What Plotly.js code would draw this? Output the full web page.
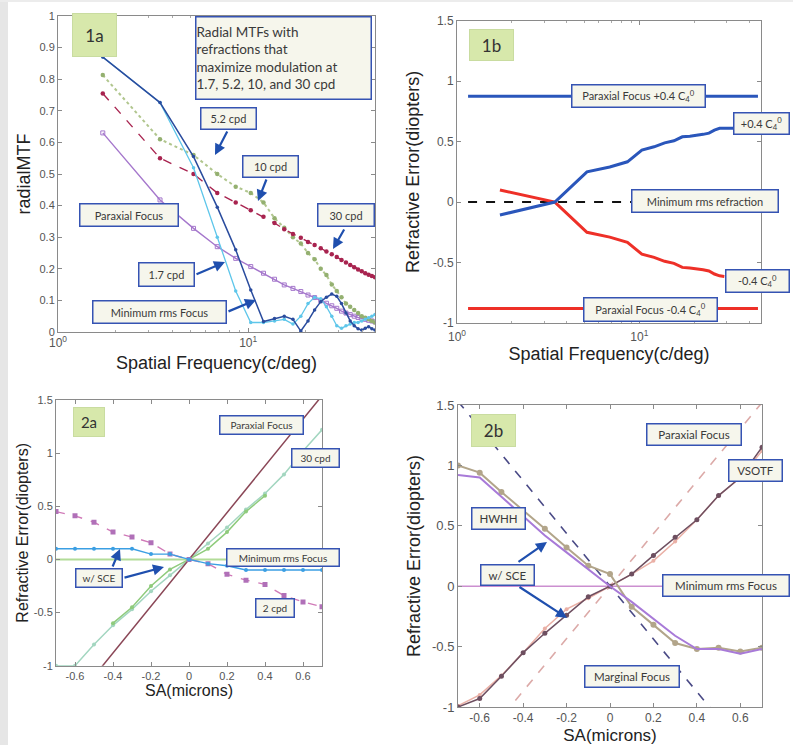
<!DOCTYPE html>
<html><head><meta charset="utf-8">
<script src="https://cdn.plot.ly/plotly-3.0.1.min.js"></script>
<style>html,body{margin:0;padding:0;background:#fff}#chart{width:793px;height:745px}</style>
</head><body><div id="chart"></div>
<script>
// ---------- Panel 1a / 1b : spatial frequency (c/deg) ----------
const freq = [1.72,3.44,5.16,6.88,8.6,10.32,12.04,13.76,15.48,17.2,18.92,20.64,22.36,24.08,25.8,27.52,29.24,30.96,32.68,34.4,36.12,37.84,39.56,41.28,43,44.72,46.44];
const mtfMinRms = [0.87,0.726,0.555,0.395,0.26,0.133,0.033,0.043,0.05,0.04,0.003,0.035,0.07,0.096,0.11,0.12,0.113,0.09,0.06,0.035,0.02,0.01,0.006,0.012,0.017,0.01,0.006];
const mtf17 = [0.87,0.726,0.52,0.30,0.13,0.03,0.03,0.035,0.04,0.025,0.05,0.09,0.11,0.105,0.08,0.05,0.02,0.012,0.02,0.025,0.03,0.03,0.035,0.04,0.045,0.05,0.055];
const mtf52 = [0.813,0.61,0.56,0.50,0.46,0.44,0.41,0.36,0.33,0.30,0.28,0.25,0.23,0.20,0.18,0.15,0.13,0.11,0.09,0.08,0.07,0.06,0.05,0.045,0.04,0.035,0.03];
const mtf10_30 = [0.755,0.55,0.50,0.44,0.41,0.385,0.365,0.345,0.325,0.31,0.298,0.285,0.275,0.265,0.255,0.246,0.237,0.228,0.22,0.212,0.205,0.198,0.192,0.186,0.181,0.177,0.173];
const mtfParaxial = [0.63,0.418,0.328,0.27,0.233,0.207,0.186,0.167,0.149,0.138,0.128,0.117,0.109,0.099,0.091,0.083,0.075,0.066,0.06,0.055,0.05,0.046,0.043,0.04,0.037,0.035,0.032];
const refrPlus = [-0.107,0.0,0.25,0.29,0.333,0.43,0.457,0.49,0.507,0.54,0.545,0.55,0.56,0.57,0.595,0.61,0.61,0.61,0.61];
const refrMinus = [0.1,0.0,-0.25,-0.29,-0.333,-0.43,-0.457,-0.49,-0.507,-0.54,-0.545,-0.55,-0.56,-0.57,-0.595,-0.61,-0.615];
const flatX = [1.15,44.7];
const paraxPlusY = [0.876,0.876];
const paraxMinusY = [-0.88,-0.88];
const minRmsY = [0,0];
const logTickVals = [1,10];
const logTickText = ['10<sup>0</sup>','10<sup>1</sup>'];

// ---------- Panel 2a / 2b : SA (microns) ----------
const sa = [-0.7,-0.6,-0.5,-0.4,-0.3,-0.2,-0.1,0,0.1,0.2,0.3,0.4,0.5,0.6,0.7];
const sa2a_green = [-0.4,-0.3,-0.2,-0.1,0,0.1,0.2,0.3,0.4];
const re2a_green = [-0.6,-0.45,-0.25,-0.094,0,0.1,0.257,0.45,0.6];
const re2a_teal = [-1.0,-1.0,-0.8,-0.62,-0.47,-0.3,-0.15,0,0.15,0.3,0.47,0.62,0.8,1.02,1.22];
const re2a_blue = [0.1,0.1,0.1,0.1,0.1,0.05,0.05,0,-0.04,-0.06,-0.1,-0.1,-0.1,-0.1,-0.1];
const re2a_pink = [0.45,0.41,0.35,0.257,0.21,0.157,0.05,0,-0.04,-0.14,-0.195,-0.235,-0.34,-0.4,-0.445];
const lineX = [-0.7,0.7];
const parax2aY = [-1.54,1.54];
const parax2bY = [-1.52,1.52];
const marg2bY = [1.53,-1.53];
const hwhhNoSce = [1.0,0.94,0.78,0.63,0.475,0.32,0.17,0.1,-0.17,-0.32,-0.47,-0.52,-0.51,-0.54,-0.51];
const hwhhSce = [0.92,0.9,0.74,0.58,0.42,0.28,0.14,0,-0.13,-0.27,-0.41,-0.52,-0.52,-0.56,-0.52];
const vsotfSce = [-1.0,-0.93,-0.745,-0.55,-0.39,-0.24,-0.087,0,0.1,0.255,0.406,0.55,0.75,0.9,1.15];
const vsotfNoSce = [-0.99,-0.9,-0.74,-0.55,-0.35,-0.19,-0.1,0,0.1,0.21,0.37,0.55,0.75,0.9,1.12];
const srTickVals = [-1,-0.5,0,0.5,1,1.5];
const srTickText = ['-1','-0.5','0','0.5','1','1.5'];
const saTickVals = [-0.6,-0.4,-0.2,0,0.2,0.4,0.6];
const saTickText = ['-0.6','-0.4','-0.2','0','0.2','0.4','0.6'];

const W = 793, H = 745;
const px = v => v / W, py = v => 1 - v / H;

function tr(x, y, ax, color, opt) {
  opt = opt || {};
  const t = {x: x, y: y, xaxis: 'x' + (ax === 1 ? '' : ax), yaxis: 'y' + (ax === 1 ? '' : ax),
    type: 'scatter', mode: opt.mode || 'lines', hoverinfo: 'skip',
    line: {color: color, width: opt.width || 1.3, dash: opt.dash || 'solid'}};
  if (t.mode.indexOf('markers') >= 0) {
    t.marker = {color: opt.mcolor || color, size: opt.msize || 4, symbol: opt.symbol || 'circle',
      line: {color: opt.mline || color, width: opt.mlw || 0}};
  }
  return t;
}

const data = [
  // 1a
  tr(freq, mtfParaxial, 1, '#a577cc', {mode: 'lines+markers', symbol: 'square-open', msize: 4, mlw: 1, width: 1.4}),
  tr(freq, mtf52, 1, '#b1c68e', {mode: 'lines+markers', dash: 'dot', msize: 4.5, mcolor: '#94b070', width: 2}),
  tr(freq, mtf10_30, 1, '#a8234f', {mode: 'lines+markers', dash: 'dash', msize: 4.5, width: 1.4}),
  tr(freq, mtf17, 1, '#5ec6ea', {mode: 'lines+markers', msize: 3.5, width: 1.3}),
  tr(freq, mtfMinRms, 1, '#2a4c9e', {mode: 'lines+markers', msize: 3.5, width: 1.5}),
  // 1b
  tr(flatX, paraxPlusY, 2, '#2a56bb', {width: 3}),
  tr(flatX, paraxMinusY, 2, '#ee3028', {width: 3}),
  tr(flatX, minRmsY, 2, '#111111', {width: 2, dash: 'dash'}),
  tr(freq.slice(0, refrMinus.length), refrMinus, 2, '#ee3028', {width: 3}),
  tr(freq.slice(0, refrPlus.length), refrPlus, 2, '#2a56bb', {width: 3}),
  // 2a
  tr(lineX, minRmsY, 3, '#b2dc98', {width: 2}),
  tr(sa, re2a_teal, 3, '#a3d6c0', {mode: 'lines+markers', msize: 4, width: 1.5}),
  tr(lineX, parax2aY, 3, '#8a4656', {width: 1.5}),
  tr(sa2a_green, re2a_green, 3, '#8fcb7c', {mode: 'lines+markers', msize: 4, width: 1.5}),
  tr(sa, re2a_pink, 3, '#d07ab8', {mode: 'lines+markers', dash: 'dash', symbol: 'square', msize: 5, mcolor: '#b070b8', width: 1.4}),
  tr(sa, re2a_blue, 3, '#3b9fe3', {mode: 'lines+markers', msize: 4, width: 1.4}),
  // 2b
  tr(lineX, minRmsY, 4, '#cc8fd0', {width: 1.5}),
  tr(lineX, parax2bY, 4, '#dcaaa8', {width: 1.6, dash: 'dash'}),
  tr(lineX, marg2bY, 4, '#4a4a86', {width: 1.6, dash: 'dash'}),
  tr(sa, vsotfNoSce, 4, '#eab0a6', {mode: 'lines+markers', msize: 4, width: 1.5}),
  tr(sa, vsotfSce, 4, '#6e4f60', {mode: 'lines+markers', msize: 5, width: 1.5}),
  tr(sa, hwhhNoSce, 4, '#b2a58a', {mode: 'lines+markers', msize: 6, width: 2}),
  tr(sa, hwhhSce, 4, '#a87ad8', {width: 2})
];

const tickFont = (s) => ({family: 'Liberation Sans, Arial, sans-serif', size: s, color: '#555'});
const titleFont = (s) => ({family: 'Liberation Sans, Arial, sans-serif', size: s, color: '#222'});
const baseAx = {showline: true, mirror: 'ticks', linecolor: '#8a8a8a', linewidth: 1, ticks: 'inside',
  ticklen: 4, tickcolor: '#8a8a8a', showgrid: false, zeroline: false, automargin: false, fixedrange: true};

function ax(extra) { return Object.assign({}, baseAx, extra); }

const ann = [];
function box(text, x0, y0, x1, y1, o) {
  o = o || {};
  const bw = o.bw === undefined ? 1.5 : o.bw;
  ann.push({xref: 'paper', yref: 'paper', x: px((x0 + x1) / 2), y: py((y0 + y1) / 2),
    xanchor: 'center', yanchor: 'middle', text: text, showarrow: false,
    width: x1 - x0 - 2 * bw, height: y1 - y0 - 2 * bw, borderpad: 0,
    align: o.align || 'center', valign: 'middle',
    bordercolor: o.border || '#3553b3', borderwidth: bw, bgcolor: o.bg || '#f6f6ec',
    font: {family: o.family || 'Lato, Open Sans, sans-serif', size: o.size || 11, color: o.color || '#3a3a3a'}});
}
function arrow(x0, y0, x1, y1) {
  ann.push({xref: 'paper', yref: 'paper', x: px(x1), y: py(y1), ax: x0 - x1, ay: y0 - y1,
    axref: 'pixel', ayref: 'pixel', text: '', showarrow: true, arrowhead: 2, arrowsize: 1,
    arrowwidth: 2.2, arrowcolor: '#1f4fae'});
}
const tagOpt = {bg: '#d7e8ab', border: '#c9dca0', bw: 1, size: 17, color: '#333'};

// 1a
box('1a', 72, 13, 117, 57, tagOpt);
box('Radial MTFs with<br>refractions that<br>maximize modulation at<br>1.7, 5.2, 10, and 30 cpd', 195, 16, 372, 100, {size: 13.5, align: 'left'});
box('5.2 cpd', 200, 107, 257, 130);
arrow(228, 130, 215, 155);
box('10 cpd', 242, 155, 299, 178);
arrow(267, 178, 258, 201);
box('30 cpd', 317, 203, 375, 227);
arrow(345, 228, 333, 249);
box('Paraxial Focus', 79, 203, 179, 227);
box('1.7 cpd', 138, 262, 195, 287);
arrow(195, 275, 225, 262);
box('Minimum rms Focus', 92, 300, 227, 324);
arrow(227, 312, 256, 300);
// 1b
box('1b', 469, 29, 514, 61, tagOpt);
box('Paraxial Focus +0.4 C<sub>4</sub><sup>0</sup>', 571, 84, 706, 108);
box('+0.4 C<sub>4</sub><sup>0</sup>', 733, 112, 790, 135);
box('Minimum rms refraction', 631, 189, 779, 213);
box('-0.4 C<sub>4</sub><sup>0</sup>', 725, 269, 790, 293);
box('Paraxial Focus -0.4 C<sub>4</sub><sup>0</sup>', 583, 297, 718, 322);
// 2a
box('2a', 73, 407, 105, 437, Object.assign({}, tagOpt, {size: 15}));
box('Paraxial Focus', 219, 415, 304, 435, {size: 10});
box('30 cpd', 291, 448, 340, 468, {size: 10});
box('Minimum rms Focus', 226, 548, 340, 567, {size: 10});
box('w/ SCE', 75, 568, 123, 588, {size: 10});
arrow(112, 568, 120, 549);
arrow(123, 578, 164, 567);
box('2 cpd', 255, 598, 295, 618, {size: 10});
// 2b
box('2b', 471, 414, 516, 447, tagOpt);
box('Paraxial Focus', 646, 423, 742, 446, {size: 11.5});
box('VSOTF', 728, 459, 783, 482, {size: 11.5});
box('HWHH', 471, 507, 526, 530, {size: 11.5});
box('w/ SCE', 480, 564, 535, 586, {size: 11.5});
arrow(517, 563, 547, 542);
arrow(518, 586, 567, 618);
box('Minimum rms Focus', 662, 574, 790, 597, {size: 11.5});
box('Marginal Focus', 584, 665, 680, 688, {size: 11.5});

const layout = {
  width: W, height: H, margin: {l: 0, r: 0, t: 0, b: 0},
  paper_bgcolor: '#ffffff', plot_bgcolor: '#ffffff', showlegend: false,
  xaxis: ax({type: 'log', range: [0, 1.667], domain: [px(58), px(375)], anchor: 'y',
    tickvals: logTickVals, ticktext: logTickText, tickfont: tickFont(12),
    minor: {tickvals: [2,3,4,5,6,7,8,9,20,30,40], ticks: 'inside', ticklen: 2, tickcolor: '#aaa'},
    title: {text: 'Spatial Frequency(c/deg)', font: titleFont(18), standoff: 6}}),
  yaxis: ax({range: [0, 1], domain: [py(332), py(16)], anchor: 'x', dtick: 0.1, tickfont: tickFont(11),
    title: {text: 'radialMTF', font: titleFont(18), standoff: 4}}),
  xaxis2: ax({type: 'log', range: [0, 1.667], domain: [px(457), px(761)], anchor: 'y2',
    tickvals: logTickVals, ticktext: logTickText, tickfont: tickFont(12), ticklabelstandoff: 3,
    minor: {tickvals: [2,3,4,5,6,7,8,9,20,30,40], ticks: 'inside', ticklen: 2, tickcolor: '#aaa'},
    title: {text: 'Spatial Frequency(c/deg)', font: titleFont(18), standoff: 0}}),
  yaxis2: ax({range: [-1, 1.5], domain: [py(323), py(20.7)], anchor: 'x2',
    tickvals: srTickVals, ticktext: srTickText, tickfont: tickFont(12),
    title: {text: 'Refractive Error(diopters)', font: titleFont(18), standoff: 8}}),
  xaxis3: ax({range: [-0.7, 0.7], domain: [px(56), px(322)], anchor: 'y3',
    tickvals: saTickVals, ticktext: saTickText, tickfont: tickFont(11),
    title: {text: 'SA(microns)', font: titleFont(16), standoff: 2}}),
  yaxis3: ax({range: [-1, 1.5], domain: [py(665.7), py(400)], anchor: 'x3',
    tickvals: srTickVals, ticktext: srTickText, tickfont: tickFont(11),
    title: {text: 'Refractive Error(diopters)', font: titleFont(16), standoff: 1}}),
  xaxis4: ax({range: [-0.7, 0.7], domain: [px(458), px(762)], anchor: 'y4',
    tickvals: saTickVals, ticktext: saTickText, tickfont: tickFont(12),
    title: {text: 'SA(microns)', font: titleFont(17), standoff: 5}}),
  yaxis4: ax({range: [-1, 1.5], domain: [py(707), py(405)], anchor: 'x4',
    tickvals: srTickVals, ticktext: srTickText, tickfont: tickFont(13),
    title: {text: 'Refractive Error(diopters)', font: titleFont(18), standoff: 6}}),
  annotations: ann,
  shapes: [
    {type: 'rect', xref: 'paper', yref: 'paper', x0: 0, x1: px(8), y0: 0, y1: 1,
      fillcolor: '#e6e6e6', line: {width: 0}, layer: 'below'},
    {type: 'rect', xref: 'paper', yref: 'paper', x0: 0, x1: 1, y0: py(2), y1: 1,
      fillcolor: '#ececec', line: {width: 0}, layer: 'below'}
  ]
};

Plotly.newPlot('chart', data, layout, {staticPlot: true, displayModeBar: false});
</script>
</body></html>
